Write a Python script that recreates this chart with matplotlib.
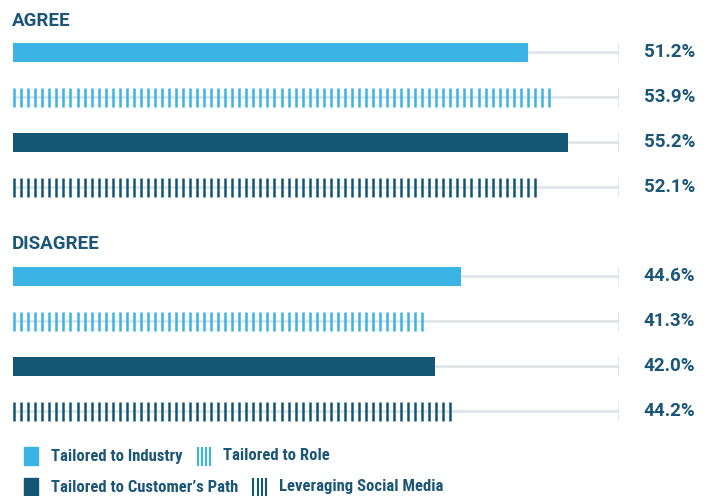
import numpy as np
import matplotlib
matplotlib.use("Agg")
import matplotlib.pyplot as plt
from matplotlib.patches import Rectangle

# data
groups = ["AGREE", "DISAGREE"]
series = ["Tailored to Industry", "Tailored to Role",
          "Tailored to Customer\u2019s Path", "Leveraging Social Media"]
agree = [51.2, 53.9, 55.2, 52.1]
disagree = [44.6, 41.3, 42.0, 44.2]

light = "#3bb3e4"
dark = "#135676"
text_col = "#1b5676"
track = "#dfe5e8"
colors = [light, light, dark, dark]
striped = [False, True, False, True]

W, H = 712, 496
fig = plt.figure(figsize=(W / 100, H / 100), dpi=100)
ax = fig.add_axes([13 / W, 0, 606 / W, 1])
xmax = 60.3
ax.set_xlim(0, xmax)
ax.set_ylim(H, 0)
ax.axis("off")

bar_h = 19
row_gap = 45
starts = [52, 276]
header_y = [21, 244]
font = ["Roboto Condensed", "Liberation Sans Narrow", "Roboto"]

for gi, (name, vals) in enumerate(zip(groups, [agree, disagree])):
    fig.text(12 / W, 1 - header_y[gi] / H, name, fontsize=13.5, fontweight="bold",
             color=text_col, family="Roboto", va="center", ha="left")
    for i, v in enumerate(vals):
        y = starts[gi] + i * row_gap
        ax.plot([0, xmax], [y, y], color=track, lw=2, zorder=1, solid_capstyle="butt")
        ax.plot([xmax, xmax], [y - bar_h / 2 + 1, y + bar_h / 2 - 1], color=track, lw=1.5, zorder=1)
        if striped[i]:
            xs = np.arange(0.12, v, 0.7)
            ax.vlines(xs, y - bar_h / 2, y + bar_h / 2, color=colors[i], lw=1.8, zorder=2)
        else:
            ax.barh(y, v, height=bar_h, color=colors[i], zorder=2)
        fig.text(695 / W, 1 - y / H, f"{v:.1f}%", fontsize=13.5, fontweight="bold",
                 color=text_col, family="Roboto", ha="right", va="center")

# legend
renderer = fig.canvas.get_renderer()
leg_rows = [456, 487]
leg_pairs = [(0, 1), (2, 3)]


def draw_icon(si, x, yc):
    if striped[si]:
        for k in range(4):
            fig.add_artist(plt.Line2D([(x + 1 + k * 4.3) / W] * 2,
                                      [1 - (yc - 8.5) / H, 1 - (yc + 8.5) / H],
                                      color=colors[si], lw=1.5))
    else:
        fig.add_artist(Rectangle((x / W, 1 - (yc + 9) / H), 14 / W, 18 / H,
                                 color=colors[si], transform=fig.transFigure))


for r, pair in enumerate(leg_pairs):
    yc = leg_rows[r]
    x = 24
    for si in pair:
        draw_icon(si, x, yc)
        t = fig.text((x + 27) / W, 1 - yc / H, series[si], fontsize=12, fontweight="bold",
                     color=text_col, family=font, ha="left", va="center")
        bb = t.get_window_extent(renderer)
        x = bb.x1 + 14

fig.savefig("out.png", dpi=100)
